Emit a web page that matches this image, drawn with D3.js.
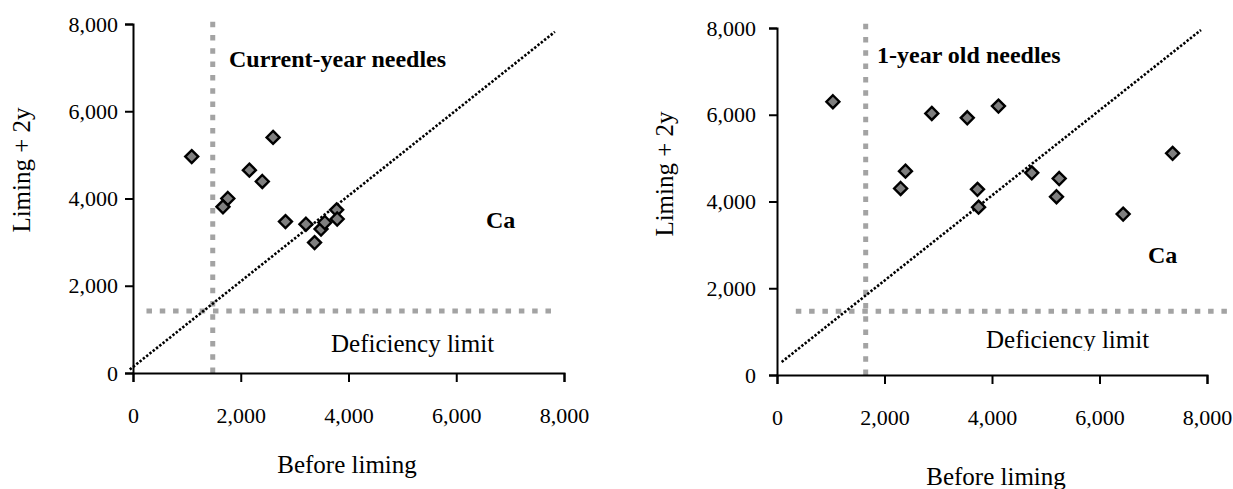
<!DOCTYPE html>
<html>
<head>
<meta charset="utf-8">
<script src="https://cdn.jsdelivr.net/npm/d3@7"></script>
<style>
  html, body { margin: 0; padding: 0; background: #fff; }
  svg { display: block; }
  text { font-family: "Liberation Serif", "Times New Roman", serif; fill: #000; }
</style>
</head>
<body>
<svg id="chart" width="1233" height="489"></svg>
<script>
// ---- Data ----
const tickValues = [0, 2000, 4000, 6000, 8000];

// Current-year needles (Ca)
const currentBefore = [1090, 2600, 2160, 2400, 1760, 1670, 2830, 3210, 3370, 3490, 3560, 3780, 3790];
const currentAfter  = [4960, 5400, 4650, 4390, 4000, 3810, 3470, 3410, 2990, 3300, 3450, 3740, 3530];

// 1-year old needles (Ca)
const oldBefore = [1040, 2880, 3540, 4120, 2390, 2300, 3730, 3750, 4740, 5250, 5200, 6440, 7360];
const oldAfter  = [6300, 6030, 5930, 6200, 4700, 4300, 4280, 3870, 4660, 4530, 4110, 3710, 5110];

// Deficiency limit lines [x1, y1, x2, y2]
const currentLimitV = [1480, 0, 1480, 8050];
const currentLimitH = [250, 1420, 7800, 1420];
const oldLimitV = [1650, 0, 1650, 8130];
const oldLimitH = [350, 1470, 8370, 1470];

// 1:1 reference lines [x1, y1, x2, y2]
const currentDiag = [-60, 80, 7830, 7820];
const oldDiag = [87, 300, 7888, 7954];

const titles = ["Current-year needles", "1-year old needles"];
const xTitle = "Before liming";
const yTitle = "Liming + 2y";
const elementLabel = "Ca";
const limitLabel = "Deficiency limit";

// ---- Drawing ----
const svg = d3.select("#chart");
const fmt = d3.format(",");
const diamond = { draw(ctx, size) { const r = Math.sqrt(size / 2); ctx.moveTo(0, -r); ctx.lineTo(r, 0); ctx.lineTo(0, r); ctx.lineTo(-r, 0); ctx.closePath(); } };

function drawPanel(p) {
  const x = d3.scaleLinear().domain([0, 8000]).range([p.x0, p.x1]);
  const y = d3.scaleLinear().domain([0, 8000]).range([p.y0, p.y1]);
  const g = svg.append("g");

  // deficiency limit dashed lines
  [p.limV, p.limH].forEach(l => {
    g.append("line")
      .attr("x1", x(l[0])).attr("y1", y(l[1]))
      .attr("x2", x(l[2])).attr("y2", y(l[3]))
      .attr("stroke", "#a3a3a3").attr("stroke-width", 5)
      .attr("stroke-dasharray", "5.5,7.8");
  });

  // 1:1 dotted line
  g.append("line")
    .attr("x1", x(p.diag[0])).attr("y1", y(p.diag[1]))
    .attr("x2", x(p.diag[2])).attr("y2", y(p.diag[3]))
    .attr("stroke", "#000").attr("stroke-width", 2.6)
    .attr("stroke-dasharray", "2.4,1.8");

  // axes
  const xAxis = d3.axisBottom(x).tickValues(tickValues).tickFormat(fmt)
    .tickSize(9).tickPadding(p.xPad);
  const yAxis = d3.axisLeft(y).tickValues(tickValues).tickFormat(fmt)
    .tickSize(8).tickPadding(p.yPad);

  const gx = g.append("g").attr("transform", `translate(0,${p.y0})`).call(xAxis);
  const gy = g.append("g").attr("transform", `translate(${p.x0},0)`).call(yAxis);
  [gx, gy].forEach(a => {
    a.selectAll("path, line").attr("stroke", "#000").attr("stroke-width", 2);
    a.selectAll("text").style("font-size", "22px")
      .style("font-family", '"Liberation Serif", serif').attr("fill", "#000");
  });

  // points
  const pts = p.xs.map((v, i) => [v, p.ys[i]]);
  g.selectAll("path.pt").data(pts).enter().append("path")
    .attr("class", "pt")
    .attr("d", d3.symbol(diamond, 84))
    .attr("transform", d => `translate(${x(d[0])},${y(d[1])})`)
    .attr("fill", "#7f7f7f").attr("stroke", "#000").attr("stroke-width", 2.4)
    .attr("stroke-linejoin", "miter");

  // texts
  g.append("text").attr("x", p.titleX).attr("y", p.titleY)
    .attr("font-weight", "bold").style("font-size", "24px").text(p.title);
  g.append("text").attr("x", p.caX).attr("y", p.caY)
    .attr("font-weight", "bold").style("font-size", "24px").text(elementLabel);

  const lim = g.append("text").attr("x", p.limX).attr("y", p.limY)
    .style("font-size", "25px").text(limitLabel);
  if (p.limClip) {
    const id = "clip" + p.x0;
    svg.append("clipPath").attr("id", id).append("rect")
      .attr("x", p.limX - 5).attr("y", p.limY - 30).attr("width", 220).attr("height", 30 + p.limClip);
    lim.attr("clip-path", `url(#${id})`);
  }

  g.append("text").attr("x", p.xtX).attr("y", p.xtY)
    .attr("text-anchor", "middle").style("font-size", "25px").text(xTitle);
  g.append("text")
    .attr("transform", `translate(${p.ytX},${p.ytY}) rotate(-90)`)
    .attr("text-anchor", "middle").style("font-size", "25px").text(yTitle);
}

drawPanel({
  x0: 133, x1: 564, y0: 373, y1: 24,
  xs: currentBefore, ys: currentAfter,
  limV: currentLimitV, limH: currentLimitH, diag: currentDiag,
  xPad: 25, yPad: 7,
  title: titles[0], titleX: 229, titleY: 67,
  caX: 486, caY: 228,
  limX: 331, limY: 352, limClip: 0,
  xtX: 347, xtY: 473, ytX: 30, ytY: 170
});

drawPanel({
  x0: 777, x1: 1207, y0: 375, y1: 28,
  xs: oldBefore, ys: oldAfter,
  limV: oldLimitV, limH: oldLimitH, diag: oldDiag,
  xPad: 25, yPad: 13,
  title: titles[1], titleX: 877, titleY: 63,
  caX: 1148, caY: 263,
  limX: 986, limY: 348, limClip: 3,
  xtX: 996, xtY: 485, ytX: 673, ytY: 174
});
</script>
</body>
</html>
